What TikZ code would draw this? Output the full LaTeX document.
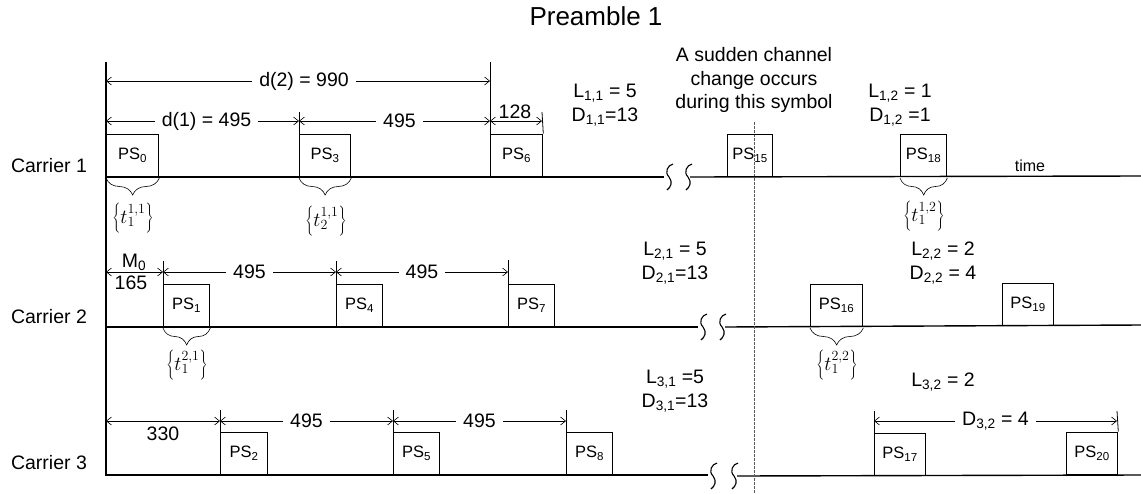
\documentclass[tikz,border=0pt]{standalone}
\usepackage{fontspec}
\usepackage{fix-cm}
\setmainfont{Liberation Sans}
\DeclareMathSizes{20}{20}{14}{11}
\usetikzlibrary{arrows.meta,decorations.pathreplacing}
\newcommand{\brkmark}[2]{\draw[line width=1.1pt] (#1+4,#2-13) .. controls (#1-1,#2-12) and (#1-5,#2-5) .. (#1,#2) .. controls (#1+4,#2+5) and (#1+2,#2+10) .. (#1-2,#2+13);}
\begin{document}
\begin{tikzpicture}[x=1pt,y=-1pt,
  lab/.style={font=\fontsize{19.5}{23.5}\selectfont, inner sep=1pt, align=center},
  gaplab/.style={lab, fill=white, inner xsep=7pt, inner ysep=1pt},
  psbox/.style={draw, line width=1.3pt, minimum height=42pt, inner sep=0pt, anchor=south west, font=\fontsize{16.5}{18}\selectfont},
  dim/.style={line width=0.6pt, {Straight Barb[length=5pt,width=8pt]}-{Straight Barb[length=5pt,width=8pt]}},
  base/.style={line width=1.4pt},
  tick/.style={line width=0.8pt},
  brc/.style={decorate, decoration={brace, amplitude=17pt, mirror}, line width=0.6pt},
  tlab/.style={font=\fontsize{20}{24}\selectfont, inner sep=0pt}
]
\useasboundingbox (0,0) rectangle (1141,493);

% title
\node[font=\fontsize{26}{30}\selectfont] (title) at (596,16) {Preamble 1};

% carrier labels
\node[lab] (c1) at (49,166) {Carrier 1};
\node[lab] (c2) at (49,317) {Carrier 2};
\node[lab] (c3) at (49,463) {Carrier 3};

% axis and baselines
\coordinate (axtop) at (106,62);
\coordinate (axbot) at (106,476);
\draw[base] (axtop) -- (axbot);
\coordinate (b1s) at (106,177); \coordinate (b1e) at (664,177);
\coordinate (b1r) at (690,177); \coordinate (b1f) at (1141,176);
\coordinate (b2s) at (106,327); \coordinate (b2e) at (698,327);
\coordinate (b2r) at (725,327); \coordinate (b2f) at (1141,325);
\coordinate (b3s) at (106,475); \coordinate (b3e) at (708,475);
\coordinate (b3r) at (737,476); \coordinate (b3f) at (1141,475);
\draw[base] (b1s) -- (b1e); \draw[base] (b1r) -- (b1f);
\draw[base] (b2s) -- (b2e); \draw[base] (b2r) -- (b2f);
\draw[base] (b3s) -- (b3e); \draw[base] (b3r) -- (b3f);
\brkmark{669}{177}\brkmark{688}{177}
\brkmark{703}{327}\brkmark{722}{327}
\brkmark{713}{476}\brkmark{734}{476}

% dashed line
\coordinate (dtop) at (754,122); \coordinate (dbot) at (754,493);
\draw[gray!70!black, line width=0.8pt, dash pattern=on 2.5pt off 1.5pt] (dtop) -- (dbot);

% carrier 1 boxes
\node[psbox, minimum width=52pt] (ps0) at (106,177) {PS\textsubscript{0}};
\node[psbox, minimum width=51pt] (ps3) at (299,177) {PS\textsubscript{3}};
\node[psbox, minimum width=52pt] (ps6) at (490,177) {PS\textsubscript{6}};
\node[psbox, minimum width=45pt] (ps15) at (727,177) {PS\textsubscript{15}};
\node[psbox, minimum width=46pt] (ps18) at (900,177) {PS\textsubscript{18}};
% carrier 2 boxes
\node[psbox, minimum width=46pt] (ps1) at (163,327) {PS\textsubscript{1}};
\node[psbox, minimum width=46pt] (ps4) at (336,327) {PS\textsubscript{4}};
\node[psbox, minimum width=46pt] (ps7) at (508,327) {PS\textsubscript{7}};
\node[psbox, minimum width=52pt] (ps16) at (810,327) {PS\textsubscript{16}};
\node[psbox, minimum width=51pt] (ps19) at (1002,326) {PS\textsubscript{19}};
% carrier 3 boxes
\node[psbox, minimum width=47pt] (ps2) at (220,475) {PS\textsubscript{2}};
\node[psbox, minimum width=46pt] (ps5) at (393,475) {PS\textsubscript{5}};
\node[psbox, minimum width=46pt] (ps8) at (566,475) {PS\textsubscript{8}};
\node[psbox, minimum width=51pt] (ps17) at (874,476) {PS\textsubscript{17}};
\node[psbox, minimum width=51pt] (ps20) at (1066,475) {PS\textsubscript{20}};

% carrier 1 dimensions
\coordinate (t6) at (490,62);
\draw[tick] (ps6.north west) -- (t6);
\coordinate (t3) at (299,112);
\draw[tick] (ps3.north west) -- (t3);
\coordinate (t6e) at (542,112);
\draw[tick] (ps6.north east) -- (t6e);
\coordinate (d2a) at (106,81); \coordinate (d2b) at (490,81);
\draw[dim] (d2a) -- node[gaplab, xshift=6pt] (d2l) {d(2) = 990} (d2b);
\coordinate (d1a) at (106,121); \coordinate (d1b) at (299,121);
\coordinate (d1c) at (490,121); \coordinate (d1d) at (542,121);
\draw[dim] (d1a) -- node[gaplab, xshift=4pt] (d1l) {d(1) = 495} (d1b);
\draw[dim] (d1b) -- node[gaplab, xshift=5pt] (d1m) {495} (d1c);
\draw[dim] (d1c) -- (d1d);
\node[lab] (l128) at (515,112) {128};

% carrier 2 dimensions
\coordinate (u1) at (163,261); \coordinate (u4) at (336,261); \coordinate (u7) at (508,260);
\draw[tick] (ps1.north west) -- (u1);
\draw[tick] (ps4.north west) -- (u4);
\draw[tick] (ps7.north west) -- (u7);
\coordinate (e0) at (106,272); \coordinate (e1) at (163,272);
\coordinate (e4) at (336,272); \coordinate (e7) at (508,272);
\draw[dim] (e0) -- (e1);
\draw[dim] (e1) -- node[gaplab] (e1l) {495} (e4);
\draw[dim] (e4) -- node[gaplab] (e4l) {495} (e7);
\node[lab] (m0) at (134,262) {M\textsubscript{0}};
\node[lab] (l165) at (131,283) {165};

% carrier 3 dimensions
\coordinate (v2) at (220,410); \coordinate (v5) at (393,410); \coordinate (v8) at (566,410);
\draw[tick] (ps2.north west) -- (v2);
\draw[tick] (ps5.north west) -- (v5);
\draw[tick] (ps8.north west) -- (v8);
\coordinate (f0) at (106,421); \coordinate (f2) at (220,421);
\coordinate (f5) at (393,421); \coordinate (f8) at (566,421);
\draw[dim] (f0) -- (f2);
\draw[dim] (f2) -- node[gaplab] (f2l) {495} (f5);
\draw[dim] (f5) -- node[gaplab] (f5l) {495} (f8);
\node[lab] (l330) at (163,434) {330};
\coordinate (v17) at (874,411); \coordinate (v20) at (1117,411);
\draw[tick] (ps17.north west) -- (v17);
\draw[tick] (ps20.north east) -- (v20);
\coordinate (g17) at (874,421); \coordinate (g20) at (1117,421);
\draw[dim] (g17) -- node[gaplab] (g17l) {D\textsubscript{3,2} = 4} (g20);

% braces
\draw[brc] ([yshift=-1pt]ps0.south west) -- ([yshift=-1pt]ps0.south east);
\draw[brc] ([yshift=-1pt]ps3.south west) -- ([yshift=-1pt]ps3.south east);
\draw[brc] ([yshift=-1pt]ps18.south west) -- ([yshift=-1pt]ps18.south east);
\draw[brc] ([yshift=-1pt]ps1.south west) -- ([yshift=-1pt]ps1.south east);
\draw[brc] ([yshift=-1pt]ps16.south west) -- ([yshift=-1pt]ps16.south east);
\node[tlab] (tl0) at (133,218) {$\left\{t_1^{1,1}\right\}$};
\node[tlab] (tl3) at (326,221) {$\left\{t_2^{1,1}\right\}$};
\node[tlab] (tl18) at (924,216) {$\left\{t_1^{1,2}\right\}$};
\node[tlab] (tl1) at (187,365) {$\left\{t_1^{2,1}\right\}$};
\node[tlab] (tl16) at (837,365) {$\left\{t_1^{2,2}\right\}$};

% L / D labels
\node[lab] (ld11) at (605,105) {L\textsubscript{1,1} = 5\\D\textsubscript{1,1}=13};
\node[lab] (ld12) at (900,105) {L\textsubscript{1,2} = 1\\D\textsubscript{1,2} =1};
\node[lab] (ld21) at (675,263) {L\textsubscript{2,1} = 5\\D\textsubscript{2,1}=13};
\node[lab] (ld22) at (943,263) {L\textsubscript{2,2} = 2\\D\textsubscript{2,2} = 4};
\node[lab] (ld31) at (675,391) {L\textsubscript{3,1} =5\\D\textsubscript{3,1}=13};
\node[lab] (l32) at (943,382) {L\textsubscript{3,2} = 2};
\node[lab] (sudden) at (754,80) {A sudden channel\\change occurs\\during this symbol};
\node[font=\fontsize{16}{18}\selectfont, inner sep=0pt] (time) at (1030,166) {time};
\end{tikzpicture}
\end{document}
